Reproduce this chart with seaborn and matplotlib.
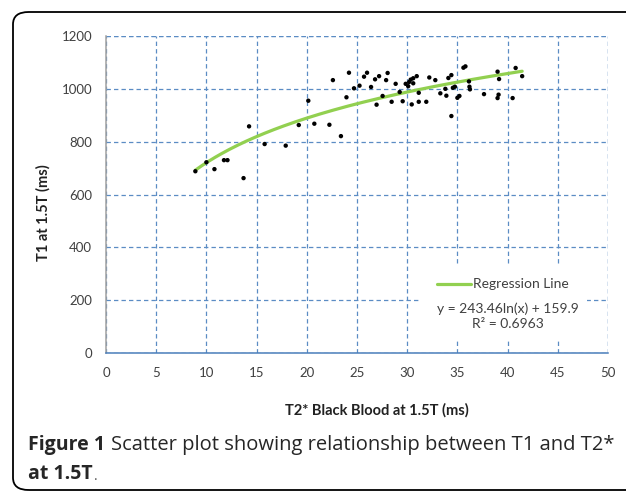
import matplotlib.pyplot as plt
import matplotlib.patches as mpatches
import numpy as np
import pandas as pd
import seaborn as sns

# Data
t2_black_blood = [8.9, 10.0, 10.8, 11.75, 12.1, 13.7, 14.25, 15.8, 17.9, 19.2,
                  20.15, 20.75, 22.25, 22.6, 23.4, 23.95, 24.2, 24.7, 25.25, 25.7,
                  26.0, 26.4, 26.8, 26.95, 27.2, 27.55, 27.9, 28.05, 28.45, 28.85,
                  29.25, 29.55, 29.85, 30.1, 30.2, 30.35, 30.45, 30.6, 30.6, 30.95,
                  31.15, 31.15, 31.9, 32.2, 32.8, 33.3, 33.8, 33.9, 34.1, 34.4,
                  34.4, 34.55, 34.75, 35.0, 35.2, 35.6, 35.8, 36.15, 36.2, 36.25,
                  37.65, 39.0, 39.15, 39.1, 39.0, 40.5, 40.8, 41.45]
t1_values = [688, 722, 696, 730, 730, 662, 858, 791, 785, 863,
             955, 868, 864, 1033, 821, 968, 1061, 1002, 1012, 1046,
             1061, 1007, 1036, 940, 1048, 973, 1033, 1060, 951, 1019,
             988, 953, 1019, 1010, 1026, 1035, 941, 1021, 1040, 1048,
             985, 951, 951, 1043, 1033, 983, 1000, 974, 1041, 1052,
             897, 1004, 1008, 966, 973, 1080, 1085, 1028, 1008, 998,
             980, 1065, 1037, 978, 965, 965, 1079, 1048]

# regression as printed on the chart
reg_a = 243.46
reg_b = 159.9
r_squared = 0.6963

x_ticks = [0, 5, 10, 15, 20, 25, 30, 35, 40, 45, 50]
y_ticks = [0, 200, 400, 600, 800, 1000, 1200]

df = pd.DataFrame({"t2": t2_black_blood, "t1": t1_values})

sns.set_style("white")
plt.rcParams['font.family'] = ['Lato', 'DejaVu Sans']

grid_col = '#5b8cc4'
tick_col = '#404040'
green = '#92d050'
dash = (0, (3.5, 2.5))

fig = plt.figure(figsize=(6.26, 4.93), dpi=100)
ax = fig.add_axes([106 / 626, 1 - 353 / 493, (608 - 106) / 626, (353 - 36) / 493])

# regression line
fit_x = np.linspace(min(t2_black_blood), max(t2_black_blood), 200)
fit_y = reg_a * np.log(fit_x) + reg_b
ax.plot(fit_x, fit_y, color=green, lw=2.3, zorder=3)

sns.scatterplot(data=df, x="t2", y="t1", ax=ax, color='black', s=10,
                edgecolor='none', zorder=4)

ax.set_xlim(0, 50)
ax.set_ylim(0, 1200)
ax.set_xticks(x_ticks)
ax.set_yticks(y_ticks)
ax.grid(True, color=grid_col, linestyle=dash, lw=0.9)
ax.set_axisbelow(True)

for side in ['top', 'right']:
    ax.spines[side].set_visible(False)
ax.spines['left'].set_color('#a0a0a0')
ax.spines['left'].set_linewidth(1.1)
ax.spines['bottom'].set_color('#4a7ebb')
ax.spines['bottom'].set_linewidth(1.1)
ax.plot([50, 50], [0, 1200], color=grid_col, ls=dash, lw=0.9, zorder=1)
ax.plot([0, 50], [1200, 1200], color=grid_col, ls=dash, lw=0.9, zorder=1)

ax.tick_params(axis='x', direction='out', length=4, width=1, color='#4a7ebb',
               labelcolor=tick_col, labelsize=9.5, pad=6)
ax.tick_params(axis='y', direction='out', length=4, width=1, color='#a0a0a0',
               labelcolor=tick_col, labelsize=9.5, pad=6)
ax.set_xlabel("")
ax.set_ylabel("")

# legend and equation box
ax.add_patch(mpatches.Rectangle((31.3, 50), 16.6, 280, facecolor='white',
                                edgecolor='none', zorder=2))
ax.plot([33.0, 36.4], [262, 262], color=green, lw=2.3, zorder=3)
ax.text(36.6, 262, "Regression Line", fontsize=10, color=tick_col,
        va='center', ha='left', zorder=4)
ax.text(40.0, 167, f"y = {reg_a}ln(x) + {reg_b}", fontsize=10, color=tick_col,
        va='center', ha='center', zorder=4)
ax.text(40.0, 110, f"R² = {r_squared}", fontsize=10, color=tick_col,
        va='center', ha='center', zorder=4)

# axis titles
fig.text(43 / 626, 1 - 213 / 493, "T1 at 1.5T (ms)", rotation=90, fontsize=10.5,
         fontweight='bold', ha='center', va='center', color='#222222')
fig.text(377 / 626, 1 - 410 / 493, "T2* Black Blood at 1.5T (ms)", fontsize=10.5,
         fontweight='bold', ha='center', va='center', color='#222222')

# caption
cap_font = ['Open Sans', 'DejaVu Sans']
fig.text(28 / 626, 1 - 445 / 493, "Figure 1", fontsize=14, fontweight='bold',
         ha='left', va='center', family=cap_font)
fig.text(111 / 626, 1 - 445 / 493, "Scatter plot showing relationship between T1 and T2*",
         fontsize=14.5, ha='left', va='center', family=cap_font)
fig.text(28 / 626, 1 - 474 / 493, "at 1.5T", fontsize=14, fontweight='bold',
         ha='left', va='center', family=cap_font)
fig.text(94 / 626, 1 - 477 / 493, ".", fontsize=10, ha='left',
         va='center', family=cap_font, color='#555555')

# rounded frame around the figure
frame = mpatches.FancyBboxPatch((13 / 626, 3 / 493), 640 / 626, 478 / 493,
                                boxstyle="round,pad=0,rounding_size=0.025",
                                transform=fig.transFigure, facecolor='none',
                                edgecolor='black', lw=1.3)
fig.patches.append(frame)

fig.savefig('out.png', dpi=100)
